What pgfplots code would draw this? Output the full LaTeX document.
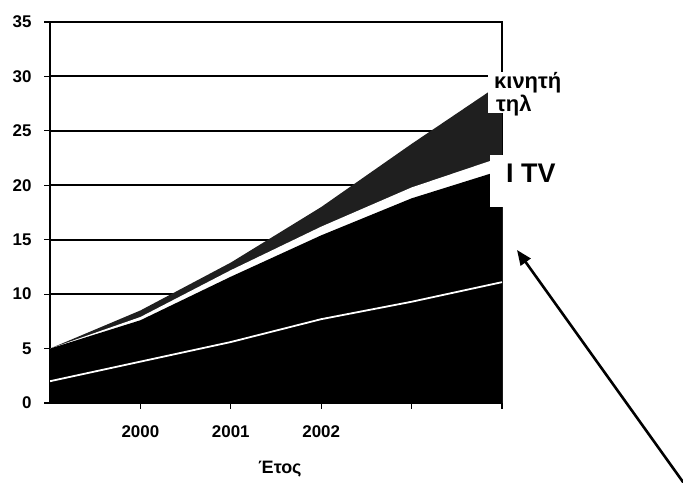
\documentclass[border=0pt]{standalone}
\usepackage{fontspec}
\setmainfont{Liberation Sans}
\usepackage{pgfplots}
\pgfplotsset{compat=1.18}
\usetikzlibrary{arrows.meta}

\begin{document}
\begin{tikzpicture}[x=1bp,y=1bp]
\useasboundingbox (0,0) rectangle (683,483);
\begin{axis}[
  at={(50bp,80bp)}, anchor=south west,
  scale only axis, width=452bp, height=381bp,
  xmin=1999, xmax=2004, ymin=0, ymax=35,
  xtick={2000,2001,2002,2003,2004},
  xticklabels={2000,2001,2002,,},
  ytick={0,5,...,35},
  yticklabel={\pgfmathprintnumber{\tick}\hspace*{9bp}},
  ymajorgrids,
  grid style={black, line width=2bp},
  axis line style={black, line width=1.6bp},
  tick style={black, line width=1.2bp},
  tick align=outside, major tick length=6bp,
  xtick pos=left, ytick pos=left,
  /pgf/number format/assume math mode=true,
  tick label style={font=\fontsize{17}{17}\selectfont\bfseries},
  xticklabel style={yshift=-13bp},
]
% cumulative boundaries of the stacked areas
\addplot[draw=none, fill=black!88] coordinates {(1999,5.0) (2000,8.5) (2001,12.9) (2002,18.0) (2003,23.8) (2004,29.4)} \closedcycle;
\addplot[draw=none, fill=white] coordinates {(1999,5.0) (2000,7.9) (2001,12.2) (2002,16.2) (2003,19.8) (2004,22.6)} \closedcycle;
\addplot[draw=none, fill=black] coordinates {(1999,5.0) (2000,7.6) (2001,11.6) (2002,15.4) (2003,18.8) (2004,21.4)} \closedcycle;
\addplot[draw=none, fill=black] coordinates {(1999,2.0) (2000,3.8) (2001,5.6) (2002,7.7) (2003,9.3) (2004,11.1)} \closedcycle;
\addplot[white, line width=1.8bp] coordinates {(1999,2.0) (2000,3.8) (2001,5.6) (2002,7.7) (2003,9.3) (2004,11.1)};
\end{axis}
\fill[white] (488,370) rectangle (600,411);
\fill[white] (490,276) rectangle (600,328);
\node[anchor=base west, inner sep=0pt, font=\fontsize{22}{22}\selectfont\bfseries] at (494,394) {κινητή};
\node[anchor=base west, inner sep=0pt, font=\fontsize{22}{22}\selectfont\bfseries] at (496,371) {τηλ};
\node[anchor=base west, inner sep=0pt, font=\fontsize{27}{27}\selectfont\bfseries] at (506,300) {I TV};
\node[font=\fontsize{18}{18}\selectfont\bfseries] at (280,14) {Έτος};
\draw[line width=2.6bp, -{Triangle[length=15bp,width=12bp]}] (688,-6) -- (517,233);
\end{tikzpicture}
\end{document}
